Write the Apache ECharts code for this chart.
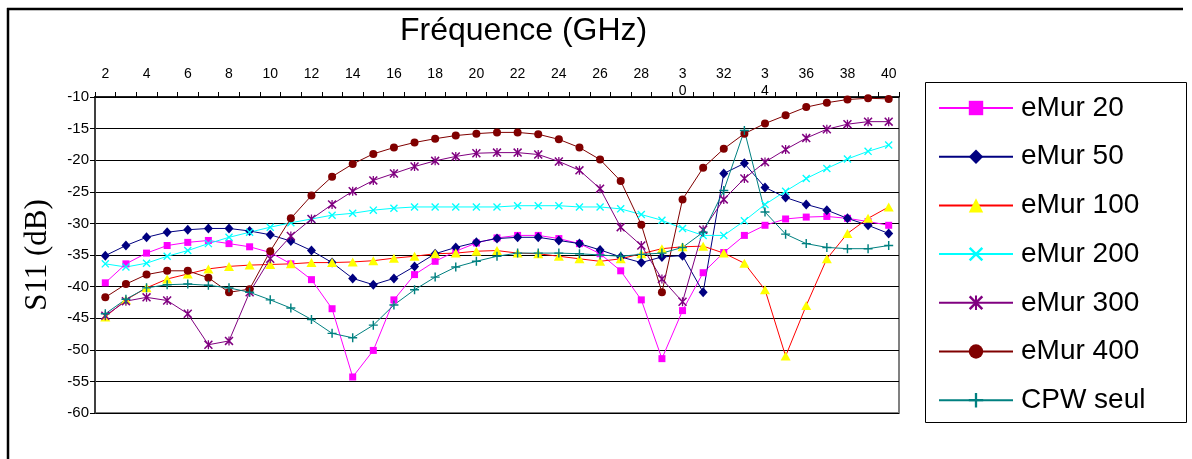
<!DOCTYPE html>
<html>
<head>
<meta charset="utf-8">
<script src="https://cdn.jsdelivr.net/npm/echarts@6/dist/echarts.min.js"></script>
<style>
html,body{margin:0;padding:0;background:#fff;}
#chart{width:1192px;height:459px;}
</style>
</head>
<body>
<div id="chart"></div>
<script>
// Frequency categories (GHz)
const freq = [2,3,4,5,6,7,8,9,10,11,12,13,14,15,16,17,18,19,20,21,22,23,24,25,26,27,28,29,30,31,32,33,34,35,36,37,38,39,40];
// Tick labels shown every 2 GHz (as wrapped in the original)
const xTickLabels = ['2','4','6','8','10','12','14','16','18','20','22','24','26','28','3\n0','32','3\n4','36','38','40'];

const seriesNames = ['eMur 20','eMur 50','eMur 100','eMur 200','eMur 300','eMur 400','CPW seul'];

const eMur20  = [-39.4,-36.4,-34.7,-33.5,-33.0,-32.7,-33.2,-33.7,-34.6,-36.4,-38.9,-43.5,-54.3,-50.1,-42.1,-38.1,-36.0,-34.4,-33.1,-32.3,-31.9,-31.9,-32.4,-33.2,-34.8,-37.5,-42.1,-51.4,-43.8,-37.8,-34.6,-31.9,-30.3,-29.3,-29.0,-28.9,-29.2,-29.7,-30.3];
const eMur50  = [-35.1,-33.5,-32.2,-31.4,-31.0,-30.8,-30.8,-31.2,-31.8,-32.8,-34.3,-36.2,-38.7,-39.7,-38.7,-36.8,-34.8,-33.8,-33.0,-32.4,-32.2,-32.2,-32.7,-33.2,-34.2,-35.3,-36.2,-35.3,-35.1,-40.9,-22.1,-20.5,-24.3,-25.9,-27.0,-27.9,-29.2,-30.3,-31.6];
const eMur100 = [-44.8,-42.1,-40.2,-38.8,-38.0,-37.2,-36.8,-36.6,-36.5,-36.4,-36.2,-36.2,-36.1,-35.9,-35.5,-35.2,-34.8,-34.7,-34.4,-34.3,-34.7,-34.8,-35.2,-35.6,-36.0,-35.6,-34.8,-34.0,-33.7,-33.6,-34.7,-36.3,-40.5,-51.0,-43.0,-35.6,-31.6,-29.2,-27.4];
const eMur200 = [-36.4,-36.9,-36.3,-35.2,-34.3,-33.2,-32.2,-31.4,-30.6,-29.9,-29.3,-28.7,-28.4,-27.9,-27.6,-27.4,-27.4,-27.4,-27.4,-27.4,-27.2,-27.2,-27.2,-27.4,-27.4,-27.7,-28.6,-29.5,-30.8,-31.9,-31.9,-29.6,-27.0,-24.9,-22.9,-21.3,-19.8,-18.6,-17.6];
const eMur300 = [-44.6,-42.3,-41.7,-42.2,-44.3,-49.2,-48.6,-40.9,-35.6,-32.0,-29.3,-27.0,-24.9,-23.2,-22.1,-21.0,-20.1,-19.4,-18.9,-18.8,-18.8,-19.1,-20.2,-21.6,-24.5,-30.6,-33.5,-38.8,-42.4,-31.0,-26.2,-22.9,-20.3,-18.3,-16.5,-15.1,-14.3,-13.9,-13.9];
const eMur400 = [-41.7,-39.6,-38.1,-37.5,-37.5,-38.6,-40.9,-40.4,-34.4,-29.2,-25.6,-22.6,-20.6,-19.0,-18.0,-17.2,-16.6,-16.1,-15.8,-15.6,-15.6,-15.9,-16.7,-18.0,-19.9,-23.3,-30.2,-40.9,-26.2,-21.2,-18.2,-15.8,-14.2,-12.9,-11.6,-10.9,-10.4,-10.2,-10.3];
const cpwSeul = [-44.3,-42.0,-40.2,-39.7,-39.6,-39.8,-40.2,-40.9,-42.1,-43.4,-45.2,-47.4,-48.1,-46.1,-42.9,-40.5,-38.5,-36.9,-36.0,-35.2,-34.7,-34.7,-34.7,-34.8,-35.0,-35.2,-34.9,-34.7,-33.8,-31.4,-24.8,-15.3,-28.2,-31.7,-33.2,-33.8,-34.0,-34.0,-33.5];

const seriesData = [eMur20, eMur50, eMur100, eMur200, eMur300, eMur400, cpwSeul];

const X_PATH = 'path://M0,1.2L1.2,0L10,8.8L8.8,10Z M8.8,0L10,1.2L1.2,10L0,8.8Z';
const AST_PATH = 'path://M0,1.2L1.2,0L10,8.8L8.8,10Z M8.8,0L10,1.2L1.2,10L0,8.8Z M4.3,0L5.7,0L5.7,10L4.3,10Z';
const PLUS_PATH = 'path://M4.2,0L5.8,0L5.8,10L4.2,10Z M0,4.2L10,4.2L10,5.8L0,5.8Z';

const styles = [
  {line:'#FF00FF', mark:'#FF00FF', symbol:'rect', size:7},
  {line:'#000080', mark:'#000080', symbol:'diamond', size:[9,10]},
  {line:'#FF0000', mark:'#FFFF00', symbol:'triangle', size:[10,9]},
  {line:'#00FFFF', mark:'#00FFFF', symbol:X_PATH, size:8},
  {line:'#800080', mark:'#800080', symbol:AST_PATH, size:9},
  {line:'#800000', mark:'#800000', symbol:'circle', size:8},
  {line:'#008080', mark:'#008080', symbol:PLUS_PATH, size:9}
];

const chart = echarts.init(document.getElementById('chart'), null, {renderer:'canvas'});

const FONT = 'Liberation Sans, Arial, sans-serif';

const option = {
  animation: false,
  backgroundColor: '#ffffff',
  title: {
    text: 'Fréquence (GHz)',
    left: 400, top: 15, padding: 0,
    textStyle: {fontFamily: FONT, fontSize: 32, fontWeight: 'normal', color: '#000'}
  },
  legend: {
    orient: 'vertical',
    left: 938, top: 93,
    padding: 0,
    itemWidth: 74, itemHeight: 18, itemGap: 18.7,
    data: seriesNames,
    textStyle: {fontFamily: FONT, fontSize: 28, color: '#000', lineHeight: 30, padding: [0,0,0,3]}
  },
  graphic: [
    {type:'line', shape:{x1:7, y1:9, x2:1183, y2:9}, style:{stroke:'#000', lineWidth:2.5}, z: 10},
    {type:'line', shape:{x1:8, y1:8, x2:8, y2:470}, style:{stroke:'#000', lineWidth:2.5}, z: 10},
    {type:'rect', shape:{x:925.5, y:82.5, width:261, height:340}, style:{fill:'#fff', stroke:'#000', lineWidth:1}, z: -1}
  ],
  grid: {
    left: 95, right: 293, top: 97, bottom: 46,
    show: true, backgroundColor: '#fff', borderColor: '#808080', borderWidth: 2,
    containLabel: false, outerBoundsMode: 'none'
  },
  xAxis: {
    type: 'category',
    position: 'top',
    data: freq,
    boundaryGap: true,
    axisLine: {show: true, lineStyle: {color: '#000', width: 1.5}},
    axisTick: {show: true, interval: 0, length: 5, lineStyle: {color: '#000'}},
    axisLabel: {
      interval: 1,
      fontFamily: FONT, fontSize: 14, color: '#000',
      verticalAlign: 'top', lineHeight: 17, margin: 31,
      formatter: function (val, idx) { return xTickLabels[Math.floor(idx / 2)]; }
    },
    splitLine: {show: false}
  },
  yAxis: {
    type: 'value',
    min: -60, max: -10, interval: 5,
    name: 'S11 (dB)',
    nameLocation: 'middle',
    nameGap: 42,
    nameTextStyle: {fontFamily: 'Liberation Serif, Times New Roman, serif', fontSize: 31, color: '#000'},
    axisLine: {show: true, lineStyle: {color: '#404040', width: 2}},
    axisTick: {show: true, length: 5, lineStyle: {color: '#000'}},
    axisLabel: {fontFamily: FONT, fontSize: 15, color: '#000', margin: 6},
    splitLine: {show: true, lineStyle: {color: '#000', width: 1}}
  },
  series: seriesNames.map(function (name, i) {
    const s = styles[i];
    return {
      name: name,
      type: 'line',
      data: seriesData[i],
      symbol: s.symbol,
      symbolSize: s.size,
      showSymbol: true,
      showAllSymbol: true,
      lineStyle: {color: s.line, width: 1},
      itemStyle: {color: s.mark, borderWidth: 0},
      emphasis: {disabled: true}
    };
  })
};

chart.setOption(option);
</script>
</body>
</html>
